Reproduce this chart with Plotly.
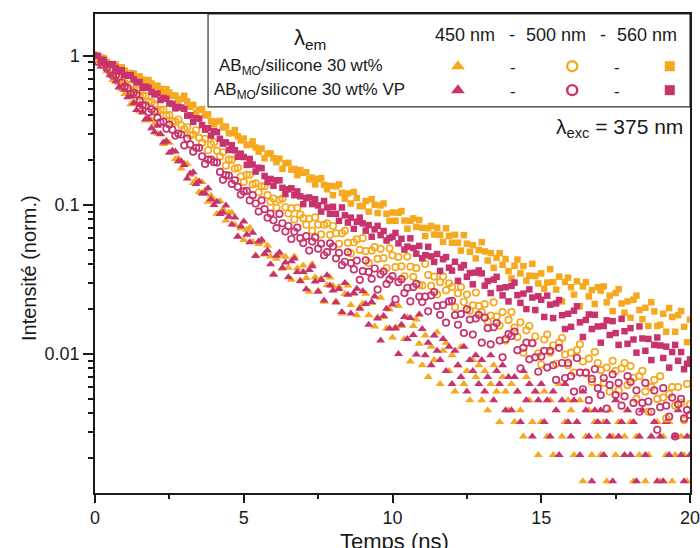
import plotly.graph_objects as go

# time grid (ns), 0.1 ns channels
TIME_NS = [round(0.1 * i, 1) for i in range(201)]

# 560 nm, AB_MO/silicone 30 wt% (orange squares)
OS = [1.0, 0.955, 0.971, 0.963, 0.908, 0.862, 0.877, 0.870, 0.825, 0.836,
      0.794, 0.753, 0.765, 0.758, 0.717, 0.726, 0.69, 0.658, 0.686, 0.65,
      0.621, 0.629, 0.599, 0.571, 0.596, 0.565, 0.538, 0.541, 0.506, 0.513,
      0.538, 0.493, 0.454, 0.468, 0.415, 0.433, 0.439, 0.397, 0.404, 0.364,
      0.346, 0.362, 0.365, 0.330, 0.335, 0.302, 0.302, 0.317, 0.288, 0.270,
      0.278, 0.251, 0.253, 0.266, 0.242, 0.227, 0.238, 0.205, 0.220, 0.221,
      0.205, 0.193, 0.204, 0.174, 0.190, 0.191, 0.172, 0.174, 0.158, 0.171,
      0.164, 0.165, 0.148, 0.152, 0.137, 0.149, 0.151, 0.136, 0.127, 0.134,
      0.116, 0.133, 0.137, 0.120, 0.110, 0.119, 0.102, 0.122, 0.111, 0.098,
      0.098, 0.106, 0.090, 0.109, 0.100, 0.088, 0.099, 0.102, 0.087, 0.078,
      0.0888, 0.0782, 0.0885, 0.0908, 0.0784, 0.0692, 0.0782, 0.0811, 0.0711, 0.079,
      0.070, 0.0617, 0.0697, 0.0721, 0.0632, 0.0702, 0.063, 0.0565, 0.0696, 0.0619,
      0.0557, 0.0629, 0.0557, 0.0493, 0.0626, 0.0549, 0.0484, 0.0536, 0.0437, 0.0498,
      0.0562, 0.0487, 0.0423, 0.0475, 0.0378, 0.0441, 0.0474, 0.0396, 0.0433, 0.0359,
      0.0321, 0.039, 0.0429, 0.0347, 0.0388, 0.031, 0.0335, 0.0402, 0.0333, 0.0297,
      0.0347, 0.0274, 0.0301, 0.037, 0.0303, 0.027, 0.033, 0.0225, 0.0304, 0.0325,
      0.028, 0.025, 0.0307, 0.0209, 0.0284, 0.0303, 0.0243, 0.0268, 0.0216, 0.028,
      0.0266, 0.0284, 0.0222, 0.0246, 0.0194, 0.0256, 0.0272, 0.0218, 0.0189, 0.0225,
      0.0175, 0.0231, 0.0246, 0.0197, 0.0171, 0.0204, 0.0154, 0.0222, 0.0193, 0.0154,
      0.0157, 0.0186, 0.0141, 0.0203, 0.0177, 0.0141, 0.0182, 0.0194, 0.0152, 0.012,
      0.017]

# 560 nm, AB_MO/silicone 30 wt% VP (magenta squares)
MS = [1.0, 0.998, 0.938, 0.934, 0.876, 0.867, 0.877, 0.825, 0.790, 0.797,
      0.743, 0.733, 0.739, 0.693, 0.662, 0.665, 0.609, 0.620, 0.609, 0.570,
      0.549, 0.558, 0.504, 0.520, 0.514, 0.478, 0.475, 0.443, 0.455, 0.449,
      0.44, 0.396, 0.398, 0.360, 0.380, 0.378, 0.342, 0.319, 0.326, 0.291,
      0.311, 0.307, 0.277, 0.257, 0.262, 0.233, 0.251, 0.232, 0.210, 0.220,
      0.209, 0.185, 0.203, 0.186, 0.167, 0.177, 0.176, 0.156, 0.142, 0.149,
      0.134, 0.146, 0.146, 0.130, 0.118, 0.127, 0.129, 0.116, 0.123, 0.114,
      0.101, 0.111, 0.112, 0.101, 0.109, 0.099, 0.090, 0.106, 0.096, 0.087,
      0.097, 0.087, 0.078, 0.096, 0.085, 0.076, 0.082, 0.069, 0.077, 0.082,
      0.075, 0.0671, 0.0731, 0.0611, 0.0684, 0.0722, 0.0626, 0.0667, 0.0576, 0.0599,
      0.061, 0.0648, 0.0551, 0.0592, 0.0501, 0.0524, 0.0596, 0.0513, 0.047, 0.053,
      0.0438, 0.0459, 0.0523, 0.0451, 0.0414, 0.0468, 0.036, 0.0432, 0.0446, 0.0379,
      0.0362, 0.0415, 0.0309, 0.038, 0.0394, 0.0329, 0.0349, 0.0293, 0.0351, 0.0363,
      0.0347, 0.0287, 0.0308, 0.0256, 0.0315, 0.0329, 0.0276, 0.0247, 0.028, 0.0225,
      0.0286, 0.0301, 0.0248, 0.022, 0.0254, 0.02, 0.0271, 0.0239, 0.0197, 0.0244,
      0.0231, 0.0177, 0.0246, 0.0214, 0.0174, 0.0218, 0.023, 0.0182, 0.0147, 0.0186,
      0.0152, 0.0195, 0.0209, 0.0163, 0.013, 0.0169, 0.0184, 0.0147, 0.0183, 0.0153,
      0.0119, 0.0154, 0.0168, 0.0134, 0.0166, 0.0138, 0.0115, 0.0172, 0.0142, 0.0117,
      0.0149, 0.0125, 0.0102, 0.0153, 0.0127, 0.0105, 0.0126, 0.0091, 0.0115, 0.0129,
      0.0114, 0.0094, 0.0112, 0.0081, 0.0103, 0.0115, 0.009, 0.0103, 0.0079, 0.0086,
      0.0092]

# 500 nm, AB_MO/silicone 30 wt% (orange open circles)
OC = [1.0, 0.945, 0.951, 0.887, 0.827, 0.864, 0.801, 0.746, 0.746, 0.679,
      0.651, 0.691, 0.637, 0.589, 0.592, 0.532, 0.541, 0.537, 0.491, 0.488,
      0.47, 0.42, 0.433, 0.435, 0.396, 0.399, 0.362, 0.360, 0.373, 0.341,
      0.322, 0.331, 0.293, 0.296, 0.316, 0.281, 0.261, 0.277, 0.232, 0.254,
      0.262, 0.23, 0.211, 0.225, 0.183, 0.201, 0.20, 0.175, 0.177, 0.155,
      0.142, 0.159, 0.159, 0.137, 0.139, 0.121, 0.133, 0.133, 0.116, 0.105,
      0.110, 0.0955, 0.108, 0.110, 0.0963, 0.0874, 0.0946, 0.0797, 0.0955, 0.0858,
      0.0813, 0.0736, 0.0805, 0.0669, 0.0823, 0.0737, 0.0633, 0.0734, 0.075, 0.0629,
      0.0721, 0.0644, 0.0548, 0.0644, 0.0669, 0.0556, 0.0473, 0.0559, 0.0586, 0.0498,
      0.0598, 0.0489, 0.0408, 0.0493, 0.052, 0.0434, 0.0507, 0.0439, 0.0377, 0.0511,
      0.0458, 0.0382, 0.0447, 0.0386, 0.0332, 0.045, 0.0385, 0.0329, 0.0376, 0.0291,
      0.0288, 0.0401, 0.0339, 0.0286, 0.033, 0.025, 0.0303, 0.033, 0.0267, 0.0297,
      0.0281, 0.0206, 0.0255, 0.0281, 0.0223, 0.025, 0.0195, 0.0212, 0.0258, 0.0209,
      0.0191, 0.0216, 0.0165, 0.0181, 0.0222, 0.0178, 0.0155, 0.0191, 0.0123, 0.0169,
      0.0191, 0.015, 0.013, 0.0163, 0.0102, 0.0144, 0.0154, 0.0118, 0.0131, 0.0101,
      0.0085, 0.0125, 0.0135, 0.0102, 0.0114, 0.0086, 0.0119, 0.0128, 0.0099, 0.0084,
      0.0102, 0.0075, 0.0106, 0.0116, 0.0089, 0.0074, 0.0093, 0.0065, 0.0103, 0.0087,
      0.0078, 0.0064, 0.0081, 0.0056, 0.009, 0.0077, 0.0057, 0.008, 0.0087, 0.0062,
      0.0083, 0.0069, 0.005, 0.0071, 0.0077, 0.0056, 0.0041, 0.006, 0.0067, 0.005,
      0.0071, 0.0051, 0.0037, 0.0054, 0.006, 0.0045, 0.006, 0.0047, 0.0036, 0.0063,
      0.0046]

# 500 nm, AB_MO/silicone 30 wt% VP (magenta open circles)
MC = [1.0, 0.91, 0.923, 0.897, 0.819, 0.80, 0.733, 0.74, 0.719, 0.658,
      0.619, 0.607, 0.553, 0.565, 0.55, 0.50, 0.466, 0.463, 0.418, 0.437,
      0.422, 0.384, 0.357, 0.361, 0.324, 0.345, 0.319, 0.291, 0.30, 0.296,
      0.25, 0.278, 0.254, 0.227, 0.241, 0.241, 0.211, 0.188, 0.201, 0.201,
      0.193, 0.192, 0.166, 0.147, 0.158, 0.157, 0.138, 0.146, 0.132, 0.117,
      0.123, 0.124, 0.107, 0.116, 0.102, 0.09, 0.107, 0.0934, 0.0819, 0.0873,
      0.0788, 0.0698, 0.0868, 0.0752, 0.0662, 0.0721, 0.059, 0.066, 0.0702, 0.0597,
      0.0554, 0.0616, 0.0493, 0.0567, 0.0604, 0.0508, 0.0549, 0.0459, 0.0481, 0.0552,
      0.0525, 0.0438, 0.0476, 0.0394, 0.0415, 0.0481, 0.0407, 0.0369, 0.0423, 0.0314,
      0.0359, 0.0424, 0.0355, 0.0319, 0.0374, 0.027, 0.0342, 0.0357, 0.0294, 0.0315,
      0.0333, 0.0232, 0.0303, 0.0317, 0.0256, 0.0277, 0.0225, 0.0281, 0.0295, 0.0242,
      0.0223, 0.0242, 0.0193, 0.0247, 0.026, 0.021, 0.0183, 0.0213, 0.0162, 0.0225,
      0.0227, 0.0182, 0.0157, 0.0185, 0.0138, 0.0199, 0.017, 0.0135, 0.0173, 0.0183,
      0.0119, 0.0175, 0.0149, 0.0116, 0.0151, 0.0161, 0.0123, 0.0095, 0.0126, 0.0136,
      0.0132, 0.0141, 0.0106, 0.008, 0.011, 0.0119, 0.0092, 0.0118, 0.0095, 0.0076,
      0.0096, 0.0105, 0.0081, 0.0105, 0.0084, 0.0067, 0.011, 0.0087, 0.0069, 0.0087,
      0.0071, 0.0056, 0.0094, 0.0075, 0.0058, 0.0075, 0.0049, 0.0068, 0.0079, 0.0059,
      0.0053, 0.0069, 0.0043, 0.0062, 0.0073, 0.0053, 0.0064, 0.0045, 0.0052, 0.0071,
      0.0065, 0.0047, 0.0057, 0.0041, 0.0047, 0.0064, 0.0048, 0.0041, 0.0057, 0.0031,
      0.0044, 0.0059, 0.0045, 0.0038, 0.0051, 0.0028, 0.0046, 0.005, 0.0037, 0.0042,
      0.0039]

# 450 nm, AB_MO/silicone 30 wt% (orange triangles)
OT = [1.0, 0.939, 0.924, 0.845, 0.786, 0.77, 0.687, 0.682, 0.653, 0.596,
      0.552, 0.562, 0.472, 0.493, 0.48, 0.423, 0.415, 0.368, 0.38, 0.37,
      0.35, 0.301, 0.296, 0.256, 0.27, 0.261, 0.227, 0.203, 0.205, 0.175,
      0.189, 0.188, 0.159, 0.14, 0.147, 0.122, 0.142, 0.125, 0.105, 0.115,
      0.107, 0.0871, 0.106, 0.0932, 0.0786, 0.0883, 0.0885, 0.0736, 0.0616, 0.0696,
      0.0581, 0.068, 0.0702, 0.0566, 0.0459, 0.0545, 0.0567, 0.0465, 0.0533, 0.0451,
      0.0345, 0.0434, 0.0463, 0.0373, 0.0449, 0.0378, 0.0314, 0.0451, 0.0375, 0.0311,
      0.0392, 0.0323, 0.0261, 0.0401, 0.0327, 0.0265, 0.0321, 0.0224, 0.029, 0.0326,
      0.0287, 0.0225, 0.0282, 0.0187, 0.0252, 0.0288, 0.0213, 0.0252, 0.0182, 0.0205,
      0.0218, 0.0253, 0.0182, 0.022, 0.0153, 0.0176, 0.0238, 0.0177, 0.0148, 0.0199,
      0.0129, 0.0151, 0.021, 0.0154, 0.0126, 0.0176, 0.0089, 0.0154, 0.017, 0.0117,
      0.0084, 0.0133, 0.007, 0.0112, 0.0091, 0.014, 0.0063, 0.0105, 0.0119, 0.0077,
      0.0098, 0.0056, 0.0084, 0.0112, 0.0063, 0.0077, 0.0049, 0.0091, 0.007, 0.0084,
      0.0049, 0.0077, 0.0042, 0.0063, 0.0084, 0.0056, 0.0035, 0.007, 0.0056, 0.0042,
      0.0063, 0.0035, 0.0056, 0.0042, 0.0028, 0.007, 0.0049, 0.0035, 0.0056, 0.0021,
      0.0035, 0.0056, 0.0028, 0.0049, 0.0021, 0.0042, 0.0063, 0.0028, 0.0035, 0.0049,
      0.0042, 0.0021, 0.0035, 0.0049, 0.0014, 0.0028, 0.0042, 0.0021, 0.0035, 0.0028,
      0.0021, 0.0035, 0.0014, 0.0042, 0.0028, 0.0021, 0.0035, 0.0007, 0.0028, 0.0042,
      0.0035, 0.0014, 0.0028, 0.0021, 0.0042, 0.0014, 0.0021, 0.0028, 0.0007, 0.0035,
      0.0014, 0.0028, 0.0021, 0.0035, 0.0014, 0.0021, 0.0007, 0.0028, 0.0021, 0.0014,
      0.0028]

# 450 nm, AB_MO/silicone 30 wt% VP (magenta triangles)
MT = [1.0, 0.934, 0.846, 0.848, 0.821, 0.739, 0.738, 0.671, 0.611, 0.637,
      0.591, 0.525, 0.533, 0.479, 0.432, 0.466, 0.417, 0.374, 0.376, 0.326,
      0.307, 0.339, 0.298, 0.262, 0.266, 0.223, 0.23, 0.228, 0.196, 0.196,
      0.185, 0.150, 0.162, 0.165, 0.138, 0.143, 0.119, 0.119, 0.129, 0.109,
      0.0998, 0.105, 0.0866, 0.0888, 0.0988, 0.083, 0.0739, 0.0821, 0.0611, 0.0718,
      0.0772, 0.063, 0.0561, 0.0649, 0.0454, 0.0567, 0.0582, 0.047, 0.0494, 0.04,
      0.034, 0.0455, 0.0478, 0.0378, 0.0411, 0.0327, 0.0418, 0.0437, 0.0354, 0.0307,
      0.0354, 0.0272, 0.0366, 0.0388, 0.0306, 0.0261, 0.0313, 0.0228, 0.0337, 0.0288,
      0.0266, 0.0221, 0.0273, 0.0191, 0.0299, 0.0249, 0.0187, 0.0256, 0.0274, 0.0201,
      0.0263, 0.0216, 0.0157, 0.0223, 0.0243, 0.0173, 0.0123, 0.018, 0.0201, 0.0148,
      0.0215, 0.0148, 0.010, 0.0157, 0.0177, 0.0126, 0.0174, 0.0134, 0.0099, 0.0184,
      0.0147, 0.0098, 0.0119, 0.0084, 0.0133, 0.0105, 0.0091, 0.0126, 0.0077, 0.0112,
      0.0063, 0.0105, 0.0084, 0.007, 0.0112, 0.0056, 0.0091, 0.0077, 0.0098, 0.0063,
      0.0091, 0.0056, 0.007, 0.0098, 0.0049, 0.0077, 0.0063, 0.0084, 0.0042, 0.007,
      0.0042, 0.007, 0.0056, 0.0035, 0.0077, 0.0049, 0.0063, 0.0028, 0.0056, 0.0049,
      0.0063, 0.0035, 0.0049, 0.0028, 0.0056, 0.0042, 0.0021, 0.0049, 0.0063, 0.0035,
      0.0028, 0.0049, 0.0035, 0.0021, 0.0056, 0.0042, 0.0028, 0.0014, 0.0042, 0.0035,
      0.0042, 0.0021, 0.0035, 0.0028, 0.0014, 0.0049, 0.0028, 0.0035, 0.0021, 0.0042,
      0.0021, 0.0035, 0.0014, 0.0028, 0.0042, 0.0021, 0.0007, 0.0028, 0.0035, 0.0014,
      0.0028, 0.0014, 0.0035, 0.0021, 0.0007, 0.0028, 0.0042, 0.0021, 0.0014, 0.0028,
      0.0021]

ORANGE = "#F6A91F"
MAGENTA = "#C8336E"
FONT = "Liberation Sans, Arial, sans-serif"
INK = "#1a1a1a"

fig = go.Figure()


def add(y, sym, col, size, lw=0):
    mk = dict(symbol=sym, size=size, color=col)
    if "open" in sym:
        mk["line"] = dict(color=col, width=lw)
    else:
        mk["line"] = dict(width=0)
    fig.add_trace(go.Scatter(x=TIME_NS, y=y, mode="markers", marker=mk,
                             showlegend=False, hoverinfo="skip"))


add(OT, "triangle-up", ORANGE, 8)
add(MT, "triangle-up", MAGENTA, 8)
add(OC, "circle-open", ORANGE, 6.5, 1.7)
add(MC, "circle-open", MAGENTA, 6.5, 1.7)
add(OS, "square", ORANGE, 6.5)
add(MS, "square", MAGENTA, 6.5)

# legend glyphs on an overlay axis in 0..1 units
leg_x = [0.61, 0.802, 0.966]
leg_y = [0.891, 0.841]
syms = ["triangle-up", "circle-open", "square"]
sizes = [12, 10, 10]
for row, col in enumerate([ORANGE, MAGENTA]):
    for i in range(3):
        mk = dict(symbol=syms[i], size=sizes[i], color=col)
        if "open" in syms[i]:
            mk["line"] = dict(color=col, width=2.4)
        fig.add_trace(go.Scatter(x=[leg_x[i]], y=[leg_y[row]], mode="markers",
                                 marker=mk, xaxis="x2", yaxis="y2",
                                 showlegend=False, hoverinfo="skip"))

minor_y = [k * 10 ** e for e in (-3, -2, -1) for k in range(2, 10)]
minor_y = [v for v in minor_y if v > 0.00118]

fig.update_layout(
    width=700, height=548,
    margin=dict(l=95, r=10, t=14, b=55, autoexpand=False),
    paper_bgcolor="white", plot_bgcolor="white",
    font=dict(family=FONT, size=16, color=INK),
    showlegend=False,
    xaxis=dict(range=[0, 20], tickvals=[0, 5, 10, 15, 20], ticks="outside",
               ticklen=8, tickwidth=1.5, tickcolor=INK, automargin=False,
               ticklabeloverflow="allow",
               minor=dict(tickvals=[2.5, 7.5, 12.5, 17.5], ticks="outside",
                          ticklen=4, tickwidth=1.5, tickcolor=INK),
               showline=True, linecolor=INK, linewidth=1.5, mirror=True,
               showgrid=False, zeroline=False,
               tickfont=dict(size=18, family=FONT, color=INK)),
    yaxis=dict(type="log", range=[-2.932, 0.279], automargin=False,
               ticklabeloverflow="allow",
               tickvals=[0.01, 0.1, 1], ticktext=["0.01", "0.1", "1"],
               ticks="outside", ticklen=10, tickwidth=1.5, tickcolor=INK,
               minor=dict(tickvals=minor_y, ticks="outside", ticklen=5,
                          tickwidth=1.5, tickcolor=INK),
               showline=True, linecolor=INK, linewidth=1.5, mirror=True,
               showgrid=False, zeroline=False,
               tickfont=dict(size=18, family=FONT, color=INK)),
    xaxis2=dict(overlaying="x", range=[0, 1], visible=False, anchor="y2"),
    yaxis2=dict(overlaying="y", range=[0, 1], visible=False, anchor="x2"),
    shapes=[dict(type="rect", xref="paper", yref="paper", x0=0.19, x1=1.0,
                 y0=0.806, y1=1.0, line=dict(color="#333", width=1.2),
                 fillcolor="white", layer="below")],
)

ann = [
    ("λ<sub>em</sub>", 0.361, 0.948, 22, "center"),
    ("450 nm", 0.622, 0.956, 18, "center"),
    ("-", 0.701, 0.956, 18, "center"),
    ("500 nm", 0.775, 0.956, 18, "center"),
    ("-", 0.854, 0.956, 18, "center"),
    ("560 nm", 0.928, 0.956, 18, "center"),
    ("AB<sub>MO</sub>/silicone 30 wt%", 0.346, 0.889, 17, "center"),
    ("AB<sub>MO</sub>/silicone 30 wt% VP", 0.361, 0.839, 17, "center"),
    ("-", 0.703, 0.889, 17, "center"),
    ("-", 0.877, 0.889, 17, "center"),
    ("-", 0.703, 0.839, 17, "center"),
    ("-", 0.877, 0.839, 17, "center"),
    ("λ<sub>exc</sub> = 375 nm", 0.992, 0.762, 21, "right"),
]
for text, x, y, s, xa in ann:
    fig.add_annotation(text=text, x=x, y=y, xref="paper", yref="paper",
                       xanchor=xa, yanchor="middle", showarrow=False,
                       font=dict(size=s, family=FONT, color=INK))

# axis titles
fig.add_annotation(text="Temps (ns)", x=(394 - 95) / 595, y=(493 - 541) / 479,
                   xref="paper", yref="paper", xanchor="center", yanchor="middle",
                   showarrow=False, font=dict(size=22, family=FONT, color=INK))
fig.add_annotation(text="Intensité (norm.)", x=(29 - 95) / 595, y=(493 - 268) / 479,
                   xref="paper", yref="paper", xanchor="center", yanchor="middle",
                   textangle=-90, showarrow=False,
                   font=dict(size=20, family=FONT, color=INK))

fig.write_html("out.html", config={"displayModeBar": False},
               post_script="document.body.style.margin='0px';")
